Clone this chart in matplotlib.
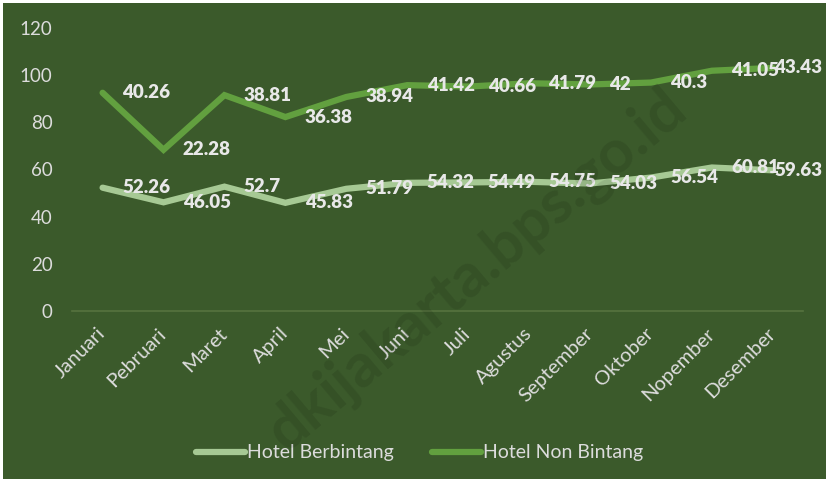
import matplotlib.pyplot as plt
import matplotlib.patches as patches
import matplotlib.transforms as mtransforms
import numpy as np

# data (stacked lines)
months = ["Januari", "Pebruari", "Maret", "April", "Mei", "Juni", "Juli",
          "Agustus", "September", "Oktober", "Nopember", "Desember"]
berbintang = [52.26, 46.05, 52.7, 45.83, 51.79, 54.32, 54.49, 54.75, 54.03, 56.54, 60.81, 59.63]
non_bintang = [40.26, 22.28, 38.81, 36.38, 38.94, 41.42, 40.66, 41.79, 42, 40.3, 41.05, 43.43]

bg = "#3b5a2b"
light = "#a6c994"
dark = "#62a03f"
txt = "#e8e8e8"

plt.rcParams['font.family'] = ['Lato', 'DejaVu Sans']

fig = plt.figure(figsize=(8.29, 4.82), dpi=100, facecolor="white")
fig.patches.append(patches.Rectangle((3 / 829, 3 / 482), 823 / 829, 476 / 482,
                                     transform=fig.transFigure, facecolor=bg,
                                     edgecolor="none", zorder=-5))
ax = fig.add_axes([0.087, 0.355, 0.882, 0.587])
ax.set_zorder(1)
ax.patch.set_alpha(0)

x = np.arange(len(months))
b = np.array(berbintang)
nb = b + np.array(non_bintang)

ax.plot(x, b, color=light, lw=4.5, solid_capstyle="round", solid_joinstyle="miter",
        label="Hotel Berbintang", zorder=3)
ax.plot(x, nb, color=dark, lw=4.5, solid_capstyle="round", solid_joinstyle="miter",
        label="Hotel Non Bintang", zorder=3)


def put_labels(ys, vals):
    for xi, yi, v in zip(x, ys, vals):
        if xi == x[-1]:
            # last label is kept inside the chart area
            ax.annotate(f"{v:g}", (0.992, yi), xycoords=("figure fraction", "data"),
                        ha="right", va="center", fontsize=13.5, fontweight="heavy",
                        color=txt, zorder=4)
        else:
            ax.annotate(f"{v:g}", (xi, yi), xytext=(14, 0), textcoords="offset points",
                        ha="left", va="center", fontsize=13.5, fontweight="heavy",
                        color=txt, zorder=4)


put_labels(b, berbintang)
put_labels(nb, non_bintang)

ax.set_xlim(-0.5, len(months) - 0.5)
ax.set_ylim(0, 120)
ax.set_yticks(range(0, 121, 20))
ax.set_xticks(x)
ax.set_xticklabels(months, rotation=45, ha="right", rotation_mode="anchor")
ax.tick_params(axis="both", length=0, colors="#dcdcdc")
ax.tick_params(axis="y", pad=14, labelsize=13.5)
ax.tick_params(axis="x", pad=10, labelsize=14.5)
shift = mtransforms.ScaledTranslation(-6 / 100, 0, fig.dpi_scale_trans)
for lab in ax.get_xticklabels():
    lab.set_transform(lab.get_transform() + shift)
for s in ["top", "right", "left"]:
    ax.spines[s].set_visible(False)
ax.spines["bottom"].set_color("#56733f")
ax.spines["bottom"].set_linewidth(1.2)

leg = ax.legend(loc="upper center", bbox_to_anchor=(0.475, -0.41), ncol=2, frameon=False,
                fontsize=14, handlelength=2.5, handletextpad=0.1, columnspacing=2.0,
                labelcolor="#dcdcdc")

# faint watermark over everything
fig.text(0.575, 0.44, "dkijakarta.bps.go.id", rotation=40, fontsize=44, fontweight="bold",
         color="black", alpha=0.1, ha="center", va="center", zorder=10)

fig.savefig("out.png", dpi=100, facecolor=fig.get_facecolor())
